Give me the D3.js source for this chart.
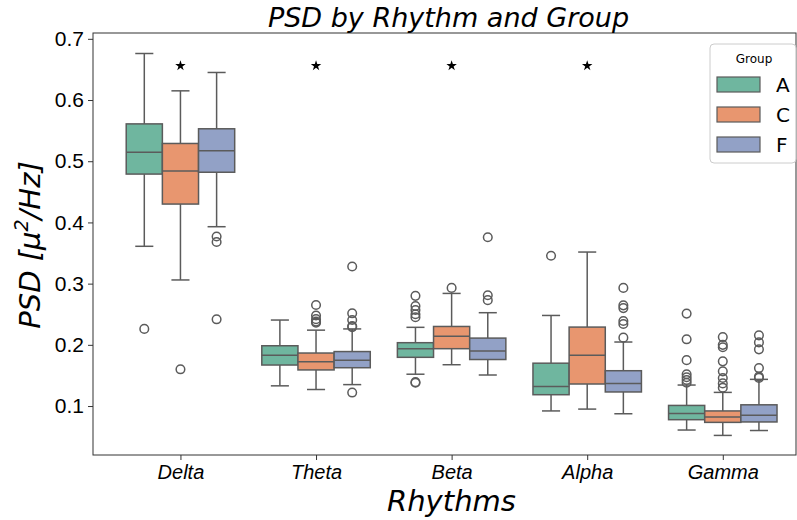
<!DOCTYPE html>
<html>
<head>
<meta charset="utf-8">
<script src="https://cdn.jsdelivr.net/npm/d3@7"></script>
<style>
  body { margin: 0; background: #fff; }
  svg { font-family: "DejaVu Sans", sans-serif; }
</style>
</head>
<body>
<svg id="chart" width="797" height="520"></svg>
<script>
// data
const rhythms = ["Delta", "Theta", "Beta", "Alpha", "Gamma"];
const groups = ["A", "C", "F"];
const colors = ["#6fb69f", "#e8966f", "#92a1c6"];
const yTicks = [0.1, 0.2, 0.3, 0.4, 0.5, 0.6, 0.7];

// [whisker low, q1, median, q3, whisker high] per rhythm
const statsA = [
    [0.361, 0.479, 0.5145, 0.561, 0.676],
    [0.133, 0.167, 0.183, 0.1985, 0.2405],
    [0.152, 0.1796, 0.1937, 0.2035, 0.2286],
    [0.092, 0.1185, 0.132, 0.170, 0.248],
    [0.0608, 0.0777, 0.088, 0.101, 0.1343]
];
const statsC = [
    [0.306, 0.430, 0.484, 0.529, 0.615],
    [0.127, 0.159, 0.1724, 0.1866, 0.224],
    [0.1675, 0.1937, 0.214, 0.230, 0.284],
    [0.095, 0.136, 0.183, 0.229, 0.3516],
    [0.052, 0.0733, 0.082, 0.092, 0.1223]
];
const statsF = [
    [0.393, 0.482, 0.517, 0.553, 0.645],
    [0.135, 0.1626, 0.175, 0.189, 0.226],
    [0.1507, 0.176, 0.190, 0.211, 0.2525],
    [0.0874, 0.123, 0.137, 0.1577, 0.2046],
    [0.060, 0.074, 0.085, 0.102, 0.1436]
];
const outliersA = [
    [0.226],
    [],
    [0.280, 0.2634, 0.257, 0.250, 0.245, 0.139, 0.138],
    [0.3456],
    [0.251, 0.209, 0.175, 0.152, 0.147, 0.1425, 0.138]
];
const outliersC = [
    [0.160],
    [0.265, 0.248, 0.242, 0.238, 0.236],
    [0.293],
    [],
    [0.2127, 0.200, 0.196, 0.173, 0.1567, 0.1458, 0.137, 0.130]
];
const outliersF = [
    [0.377, 0.368, 0.2417],
    [0.328, 0.2515, 0.2405, 0.2307, 0.229, 0.122],
    [0.3757, 0.281, 0.273],
    [0.293, 0.2645, 0.260, 0.239, 0.234, 0.2117],
    [0.2155, 0.204, 0.1926, 0.162, 0.148, 0.146]
];
const starRhythms = ["Delta", "Theta", "Beta", "Alpha"];
const starValue = 0.656;

const allStats = [statsA, statsC, statsF];
const allOutliers = [outliersA, outliersC, outliersF];

const svg = d3.select("#chart");
const pLeft = 93, pRight = 796, pTop = 33, pBottom = 455;
const edge = "#5b5b5b";

const x = d3.scaleLinear().domain([-0.645, 4.54]).range([pLeft, pRight]);
const y = d3.scaleLinear().domain([0.02, 0.7095]).range([pBottom, pTop]);
const boxW = 0.8 / groups.length;

// boxes
groups.forEach((g, gi) => {
    const off = (gi - 1) * boxW;
    rhythms.forEach((r, ri) => {
        const s = allStats[gi][ri];
        const cx = x(ri + off);
        const x0 = x(ri + off - boxW / 2), x1 = x(ri + off + boxW / 2);
        const capW = (x1 - x0) / 2;
        const grp = svg.append("g").attr("fill", "none").attr("stroke", edge).attr("stroke-width", 1.5);
        grp.append("line").attr("x1", cx).attr("x2", cx).attr("y1", y(s[0])).attr("y2", y(s[1]));
        grp.append("line").attr("x1", cx).attr("x2", cx).attr("y1", y(s[3])).attr("y2", y(s[4]));
        grp.append("line").attr("x1", cx - capW / 2).attr("x2", cx + capW / 2).attr("y1", y(s[0])).attr("y2", y(s[0]));
        grp.append("line").attr("x1", cx - capW / 2).attr("x2", cx + capW / 2).attr("y1", y(s[4])).attr("y2", y(s[4]));
        grp.append("rect")
            .attr("x", x0).attr("width", x1 - x0)
            .attr("y", y(s[3])).attr("height", y(s[1]) - y(s[3]))
            .attr("fill", colors[gi]);
        grp.append("line").attr("x1", x0).attr("x2", x1).attr("y1", y(s[2])).attr("y2", y(s[2]));
        grp.selectAll("circle")
            .data(allOutliers[gi][ri])
            .enter().append("circle")
            .attr("cx", cx).attr("cy", d => y(d)).attr("r", 4.3)
            .attr("fill", "none");
    });
});

// significance stars
svg.selectAll(".star")
    .data(starRhythms)
    .enter().append("path")
    .attr("class", "star")
    .attr("d", d3.symbol().type(d3.symbolStar).size(34))
    .attr("transform", d => `translate(${x(rhythms.indexOf(d))},${y(starValue)})`)
    .attr("fill", "#000");

// frame
svg.append("rect")
    .attr("x", pLeft).attr("y", pTop)
    .attr("width", pRight - pLeft).attr("height", pBottom - pTop)
    .attr("fill", "none").attr("stroke", "#333").attr("stroke-width", 1);

// y axis
const yAxis = svg.append("g")
    .attr("transform", `translate(${pLeft},0)`)
    .call(d3.axisLeft(y).tickValues(yTicks).tickFormat(d3.format(".1f")).tickSize(5).tickPadding(4));
yAxis.select(".domain").remove();
yAxis.selectAll("text").attr("font-size", 21).attr("fill", "#000");
yAxis.selectAll("line").attr("stroke", "#333");

// x axis
const xAxis = svg.append("g")
    .attr("transform", `translate(0,${pBottom})`)
    .call(d3.axisBottom(x).tickValues(d3.range(rhythms.length)).tickFormat(i => rhythms[i]).tickSize(5).tickPadding(5));
xAxis.select(".domain").remove();
xAxis.selectAll("text").attr("font-size", 20).attr("font-style", "italic").attr("fill", "#000");
xAxis.selectAll("line").attr("stroke", "#333");

// titles
svg.append("text")
    .attr("x", (pLeft + pRight) / 2 + 4).attr("y", 27)
    .attr("text-anchor", "middle").attr("font-size", 27).attr("font-style", "italic")
    .text("PSD by Rhythm and Group");

svg.append("text")
    .attr("x", (pLeft + pRight) / 2 + 7).attr("y", 511)
    .attr("text-anchor", "middle").attr("font-size", 29).attr("font-style", "italic")
    .text("Rhythms");

const yl = svg.append("text")
    .attr("transform", `translate(40,245) rotate(-90)`)
    .attr("text-anchor", "middle").attr("font-size", 29).attr("font-style", "italic");
yl.append("tspan").text("PSD [\u03bc");
yl.append("tspan").attr("font-size", 19).attr("dy", -12).text("2");
yl.append("tspan").attr("dy", 12).text("/Hz]");

// legend
const lg = svg.append("g").attr("transform", "translate(710,44)");
lg.append("rect")
    .attr("width", 86).attr("height", 119).attr("rx", 4)
    .attr("fill", "#fff").attr("fill-opacity", 0.8)
    .attr("stroke", "#ccc");
lg.append("text")
    .attr("x", 44).attr("y", 19).attr("text-anchor", "middle").attr("font-size", 12)
    .text("Group");
groups.forEach((g, gi) => {
    lg.append("rect")
        .attr("x", 7).attr("y", 33 + gi * 30).attr("width", 43).attr("height", 15)
        .attr("fill", colors[gi]).attr("stroke", edge).attr("stroke-width", 1.2);
    lg.append("text")
        .attr("x", 66).attr("y", 48 + gi * 30).attr("font-size", 20)
        .text(g);
});
</script>
</body>
</html>
